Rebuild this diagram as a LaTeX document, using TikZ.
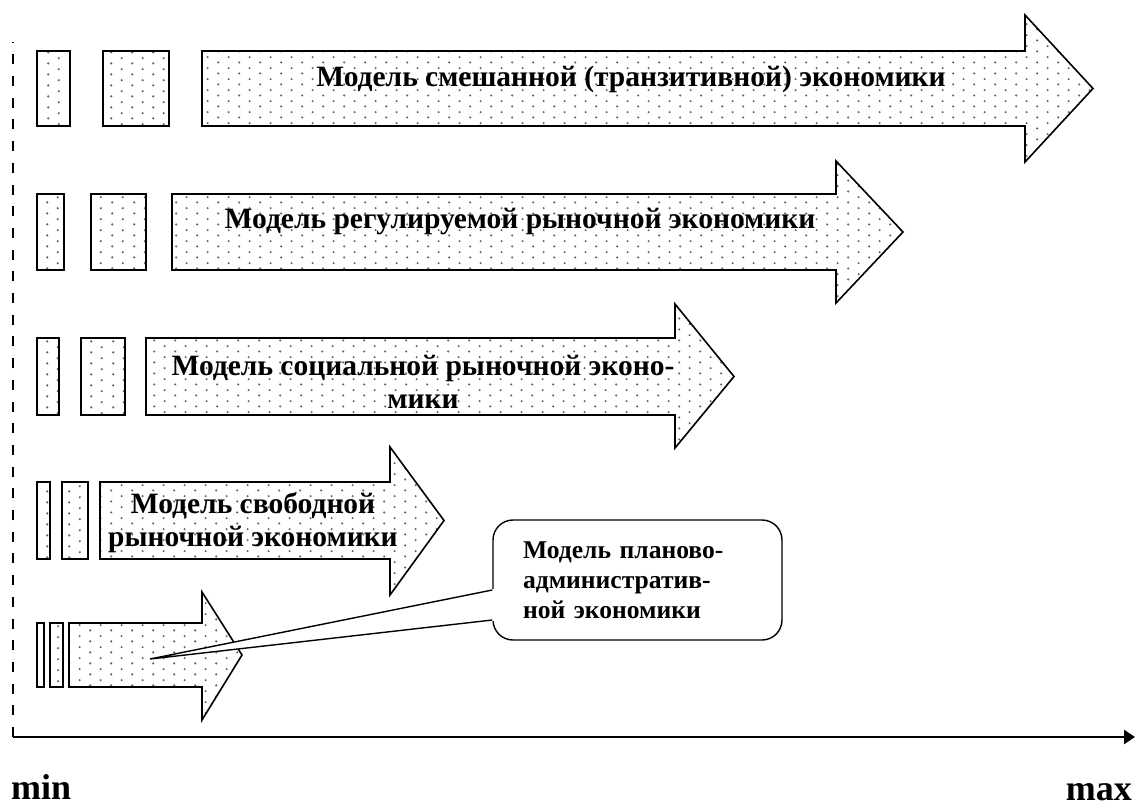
\documentclass[tikz,border=0pt]{standalone}
\usepackage{fontspec}
\setmainfont{Liberation Serif}
\usetikzlibrary{arrows.meta,patterns.meta}

\tikzdeclarepattern{
  name=grain,
  type=uncolored,
  bounding box={(0pt,0pt) and (21.4pt,10.7pt)},
  tile size={(21.4pt,10.7pt)},
  code={
    \fill (5.35pt,2.675pt) circle (1.2pt);
    \fill (16.05pt,8.025pt) circle (1.2pt);
  }
}

\tikzset{
  block/.style={draw, line width=1.6pt, pattern=grain, pattern color=black!60},
  modeltext/.style={inner sep=0pt, font=\fontsize{29.5}{33}\selectfont\bfseries},
  planbox/.style={draw, line width=1.4pt, fill=white, rounded corners=20pt,
    minimum width=289pt, minimum height=120pt, inner xsep=30pt, inner ysep=0pt,
    text width=229pt, align=left, font=\fontsize{25.6}{30}\selectfont\bfseries},
  endlabel/.style={inner sep=0pt, font=\fontsize{36}{36}\selectfont\bfseries}
}

\begin{document}
\begin{tikzpicture}[x=1pt, y=-1pt]
  \useasboundingbox (0,0) rectangle (1135,806);
  % axes
  \coordinate (O) at (13,737);
  \coordinate (ytop) at (13,42);
  \coordinate (xend) at (1135,737);
  \draw[line width=2pt, dash pattern=on 10pt off 11.7pt] (O) -- (ytop);
  \draw[line width=2.6pt, -{Triangle[length=11pt,width=14pt]}] (O) -- (xend);
  \node[endlabel, anchor=base west] (min) at (11,799) {min};
  \node[endlabel, anchor=base east] (max) at (1132,800) {max};
  % two bars and an arrow in each row
  \foreach \ra/\rb/\rc/\rd/\bl/\br/\yt/\yb/\ht/\hb/\tx in {
      37/70/103/169/202/1025/51/126/15/162/1093,
      37/64/91/146/172/836/194/270/161/303/903,
      37/59/81/125/146/675/338/415/304/448/734,
      37/50/62/88/100/390/482/559/447/595/444,
      37/44/50/63/69/202/623/687/592/720/242}{
    \draw[block] (\ra,\yt) rectangle (\rb,\yb);
    \draw[block] (\rc,\yt) rectangle (\rd,\yb);
    \draw[block] (\bl,\yt) -- (\br,\yt) -- (\br,\ht) -- (\tx,{(\yt+\yb)/2})
      -- (\br,\hb) -- (\br,\yb) -- (\bl,\yb) -- cycle;
  }
  \node[modeltext] (mixed) at (631,79) {Модель смешанной (транзитивной) экономики};
  \node[modeltext] (regulated) at (520,222) {Модель регулируемой рыночной экономики};
  \node[modeltext, align=center] (social) at (423,382) {Модель социальной рыночной эконо-\\мики};
  \node[modeltext, align=center] (free) at (253,523) {Модель свободной\\рыночной экономики};
  % callout
  \coordinate (tip) at (150,659);
  \node[planbox] (plan) at (637.5,580) {Модель планово-\\административ-\\ной экономики};
  \fill[white] (tip) -- ([xshift=1.5pt, yshift=-9pt]plan.west) -- ([xshift=1.5pt, yshift=-41pt]plan.west) -- cycle;
  \draw[line width=1.4pt] ([yshift=-10pt]plan.west) -- (tip) -- ([yshift=-40pt]plan.west);
\end{tikzpicture}
\end{document}
